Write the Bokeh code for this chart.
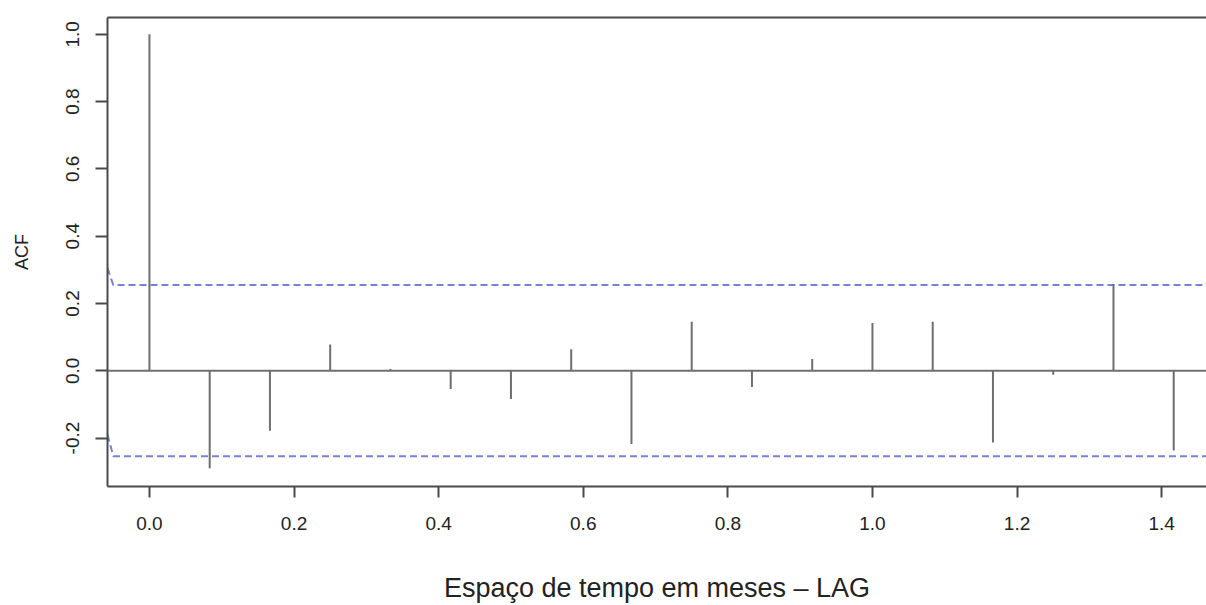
from bokeh.plotting import figure
from bokeh.models import FixedTicker, PrintfTickFormatter, Span, LinearAxis, Range1d
from bokeh.embed import file_html
from bokeh.resources import INLINE

# ACF values at lags k/12 (k = 0..17)
lag_index = list(range(18))
acf_values = [1.0, -0.290, -0.178, 0.078, 0.005, -0.054, -0.084, 0.064, -0.218,
              0.146, -0.048, 0.035, 0.142, 0.146, -0.213, -0.012, 0.257, -0.237]
lags = [k / 12 for k in lag_index]

# confidence band lines (R-style, with short slanted start)
ci_x = [-0.058, -0.05, 1.47]
ci_upper = [0.305, 0.255, 0.255]
ci_lower = [-0.19, -0.254, -0.254]

x_ticks = [0.0, 0.2, 0.4, 0.6, 0.8, 1.0, 1.2, 1.4]
y_ticks = [-0.2, 0.0, 0.2, 0.4, 0.6, 0.8, 1.0]

FONT = "Liberation Sans"

p = figure(width=1206, height=605, output_backend="svg", toolbar_location=None,
           x_range=Range1d(-0.058, 1.462), y_range=Range1d(-0.344, 1.05),
           min_border_left=107, min_border_right=0, min_border_top=17, min_border_bottom=118,
           x_axis_label="Espaço de tempo em meses – LAG", y_axis_label="ACF")
p.outline_line_color = None
p.grid.visible = False
p.background_fill_color = "white"
p.border_fill_color = "white"

# zero line
p.add_layout(Span(location=0, dimension="width", line_color="#707070", line_width=2))

# confidence bands
p.line(ci_x, ci_upper, line_color="#7880d8", line_width=2, line_dash="7 4")
p.line(ci_x, ci_lower, line_color="#7880d8", line_width=2, line_dash="7 4")

# ACF bars
p.segment(x0=lags, y0=[0] * len(lags), x1=lags, y1=acf_values,
          line_color="#6e6e6e", line_width=2)

for ax in (p.xaxis[0], p.yaxis[0]):
    ax.axis_line_color = "#4a4a4a"
    ax.axis_line_width = 2
    ax.major_tick_line_color = "#4a4a4a"
    ax.major_tick_line_width = 2
    ax.major_tick_in = 0
    ax.minor_tick_line_color = None
    ax.major_label_text_font = FONT
    ax.major_label_text_font_size = "19px"
    ax.major_label_text_color = "#222222"
    ax.axis_label_text_font = FONT
    ax.axis_label_text_font_style = "normal"
    ax.axis_label_text_color = "#222222"
    ax.formatter = PrintfTickFormatter(format="%.1f")

p.xaxis.ticker = FixedTicker(ticks=x_ticks)
p.yaxis.ticker = FixedTicker(ticks=y_ticks)
p.xaxis.major_tick_out = 11
p.xaxis.major_label_standoff = 19
p.xaxis.axis_label_text_font_size = "27px"
p.xaxis.axis_label_standoff = 40

p.yaxis.major_tick_out = 12
p.yaxis.major_label_orientation = "vertical"
p.yaxis.major_label_standoff = 16
p.yaxis.axis_label_text_font_size = "18px"
p.yaxis.axis_label_standoff = 32

# top border of the box
top = LinearAxis(ticker=FixedTicker(ticks=[]), major_label_text_font_size="0px",
                 axis_line_color="#4a4a4a", axis_line_width=2,
                 major_tick_line_color=None, minor_tick_line_color=None)
p.add_layout(top, "above")

open("out.html", "w").write(file_html(p, INLINE))
